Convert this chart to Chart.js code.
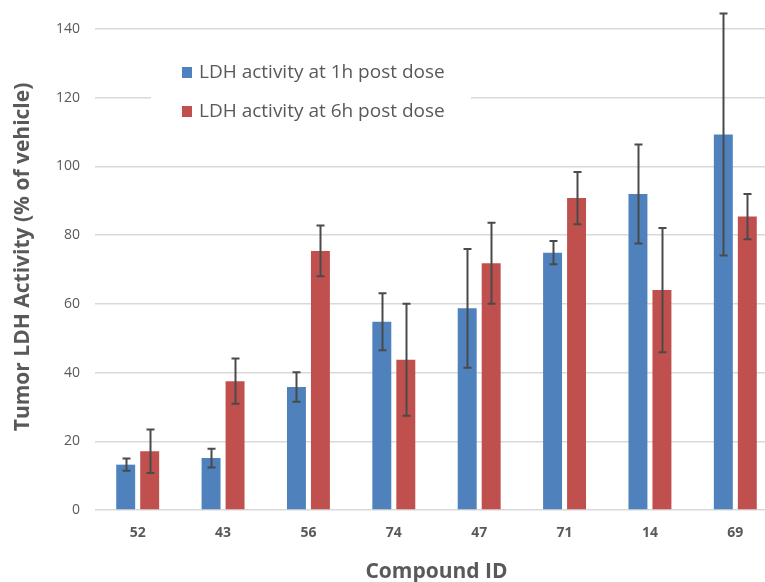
<!DOCTYPE html>
<html>
<head>
<meta charset="utf-8">
<script src="https://cdn.jsdelivr.net/npm/chart.js@4/dist/chart.umd.min.js"></script>
<style>
    html, body { margin: 0; padding: 0; background: #fff; overflow: hidden; }
    #wrap { width: 780px; height: 582px; }
</style>
</head>
<body>
<div id="wrap"><canvas id="ldh_chart" width="780" height="582"></canvas></div>
<script>
    // data
    var compounds = ['52', '43', '56', '74', '47', '71', '14', '69'];
    var ldh1h = [13.2, 15.1, 35.8, 54.8, 58.7, 74.9, 92.0, 109.3];
    var ldh1hSd = [1.8, 2.7, 4.3, 8.3, 17.3, 3.4, 14.4, 35.2];
    var ldh6h = [17.1, 37.5, 75.4, 43.7, 71.8, 90.8, 64.0, 85.4];
    var ldh6hSd = [6.3, 6.6, 7.4, 16.3, 11.8, 7.6, 18.1, 6.6];
    var yTicks = [0, 20, 40, 60, 80, 100, 120, 140];

    var textGray = '#595959';
    var font = '"Open Sans", "Liberation Sans", sans-serif';

    // error bars, drawn through the scales
    var errorBars = {
        id: 'errorBars',
        afterDatasetsDraw: function(chart) {
            var ctx = chart.ctx;
            var y = chart.scales.y;
            ctx.save();
            ctx.strokeStyle = '#4a4a4a';
            ctx.lineWidth = 2;
            chart.data.datasets.forEach(function(ds, i) {
                var meta = chart.getDatasetMeta(i);
                meta.data.forEach(function(bar, j) {
                    var v = ds.data[j], sd = ds.sd[j];
                    var top = y.getPixelForValue(v + sd);
                    var bot = y.getPixelForValue(v - sd);
                    var x = Math.round(bar.x) + 0.5;
                    ctx.beginPath();
                    ctx.moveTo(x, top); ctx.lineTo(x, bot);
                    ctx.moveTo(x - 4, top); ctx.lineTo(x + 4, top);
                    ctx.moveTo(x - 4, bot); ctx.lineTo(x + 4, bot);
                    ctx.stroke();
                });
            });
            ctx.restore();
        }
    };

    // legend sits inside the plot on a white box, y title drawn by hand
    var innerLegend = {
        id: 'innerLegend',
        afterDatasetsDraw: function(chart) {
            var ctx = chart.ctx;
            ctx.save();
            ctx.fillStyle = '#fff';
            ctx.fillRect(151, 52, 320, 78);
            ctx.font = '19px ' + font;
            ctx.textBaseline = 'middle';
            chart.data.datasets.forEach(function(ds, i) {
                var cy = 72 + i * 39;
                ctx.fillStyle = ds.backgroundColor;
                ctx.fillRect(182, cy - 5, 10, 11);
                ctx.fillStyle = textGray;
                ctx.fillText(ds.label, 199, cy + 1);
            });

            ctx.translate(23, 257);
            ctx.rotate(-Math.PI / 2);
            ctx.font = 'bold 21px ' + font;
            ctx.textAlign = 'center';
            ctx.fillStyle = textGray;
            ctx.fillText('Tumor LDH Activity (% of vehicle)', 0, 0);
            ctx.restore();
        }
    };

    var ctx = document.getElementById('ldh_chart').getContext('2d');
    new Chart(ctx, {
        type: 'bar',
        data: {
            labels: compounds,
            datasets: [{
                label: 'LDH activity at 1h post dose',
                data: ldh1h,
                sd: ldh1hSd,
                backgroundColor: '#4F81BD',
                categoryPercentage: 0.562,
                barPercentage: 0.79
            }, {
                label: 'LDH activity at 6h post dose',
                data: ldh6h,
                sd: ldh6hSd,
                backgroundColor: '#C0504D',
                categoryPercentage: 0.562,
                barPercentage: 0.79
            }]
        },
        options: {
            responsive: false,
            animation: false,
            layout: { padding: { top: 29, right: 2, left: 0, bottom: 0 } },
            plugins: {
                legend: { display: false },
                tooltip: { enabled: false }
            },
            scales: {
                x: {
                    grid: { display: false },
                    border: { display: false },
                    ticks: {
                        color: textGray,
                        font: { family: font, size: 14, weight: 'bold' },
                        padding: 7
                    },
                    title: {
                        display: true,
                        text: 'Compound ID',
                        color: textGray,
                        font: { family: font, size: 21, weight: 'bold' },
                        padding: { top: 0, bottom: -3 }
                    },
                    afterFit: function(scale) { scale.height = 72; }
                },
                y: {
                    min: 0,
                    max: 140,
                    afterBuildTicks: function(scale) {
                        scale.ticks = yTicks.map(function(v) { return { value: v }; });
                    },
                    grid: { color: '#D9D9D9', lineWidth: 1.5, drawTicks: false },
                    border: { display: false },
                    ticks: {
                        color: textGray,
                        font: { family: font, size: 14 },
                        padding: 15
                    },
                    afterFit: function(scale) { scale.width = 95; }
                }
            }
        },
        plugins: [errorBars, innerLegend]
    });
</script>
</body>
</html>
